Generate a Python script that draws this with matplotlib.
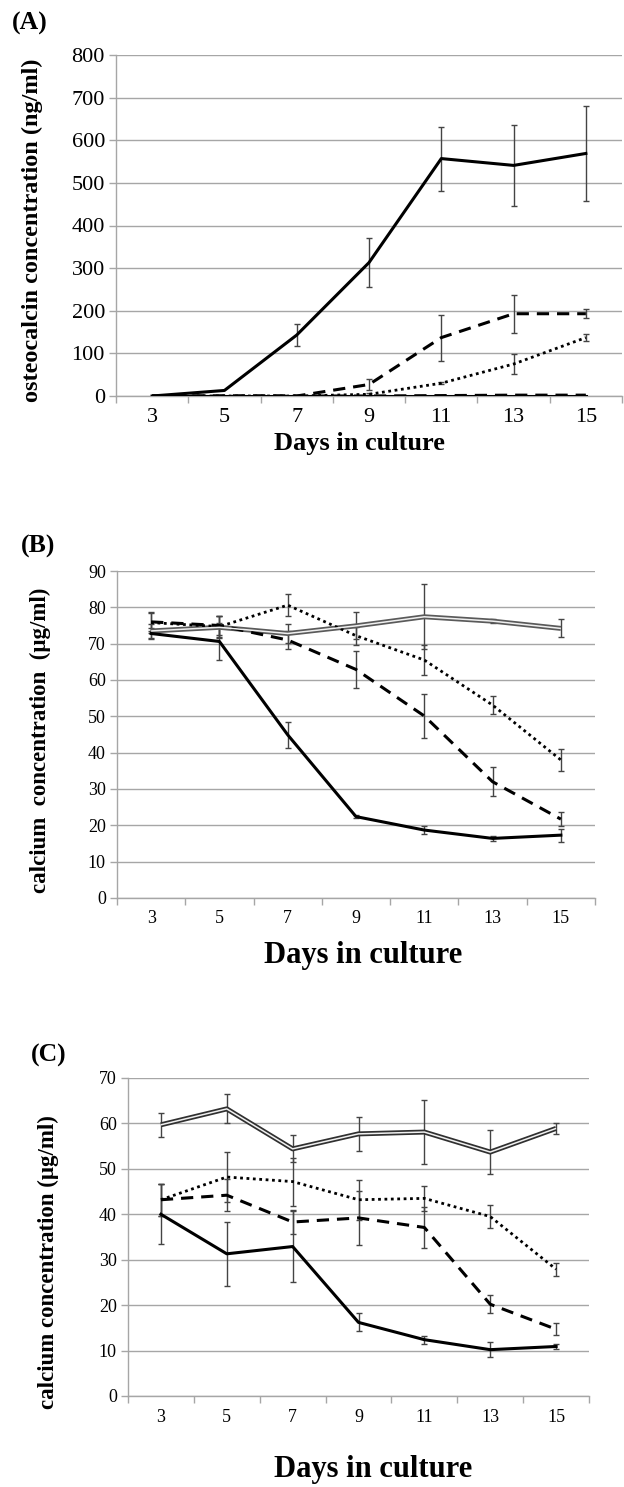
import numpy as np
import matplotlib
matplotlib.use("Agg")
import matplotlib.pyplot as plt

plt.rcParams["font.family"] = ["Liberation Serif", "DejaVu Serif"]

days = [3, 5, 7, 9, 11, 13, 15]

# (A) osteocalcin (ng/ml)
a_solid = [0, 13, 143, 313, 557, 541, 569]
a_solid_err = [0, 0, 25, 57, 75, 95, 112]
a_dashed = [0, 0, 0, 27, 137, 193, 193]
a_dashed_err = [0, 0, 0, 13, 54, 45, 11]
a_dotted = [0, 0, 0, 4, 30, 75, 137]
a_dotted_err = [0, 0, 0, 2, 3, 23, 9]
a_double = [0, 0, 0, 0, 0, 0, 0]
a_base = [0, 0, 0, 0, 1, 2, 2]

# (B) calcium (ug/ml)
b_solid = [72.8, 70.6, 44.9, 22.4, 18.7, 16.4, 17.3]
b_solid_err = [1.5, 5.0, 3.5, 0.5, 1.1, 0.7, 1.8]
b_dashed = [76.0, 75.0, 71.0, 62.9, 50.1, 32.0, 21.7]
b_dashed_err = [2.5, 2.5, 2.6, 5.0, 6.0, 4.0, 2.0]
b_dotted = [75.8, 74.7, 80.6, 72.2, 65.5, 53.1, 38.0]
b_dotted_err = [3.0, 3.0, 3.0, 2.5, 4.0, 2.5, 3.0]
b_double = [73.5, 74.5, 72.8, 74.9, 77.4, 76.2, 74.2]
b_double_err = [2.0, 3.0, 2.5, 3.7, 8.9, 0.5, 2.5]

# (C) calcium (ug/ml)
c_solid = [40.0, 31.3, 32.9, 16.2, 12.4, 10.2, 10.9]
c_solid_err = [6.6, 7.0, 7.8, 2.0, 0.9, 1.7, 0.6]
c_dashed = [43.2, 44.2, 38.3, 39.2, 37.1, 20.2, 14.7]
c_dashed_err = [3.5, 3.5, 2.7, 6.0, 4.6, 2.0, 1.3]
c_dotted = [43.2, 48.2, 47.2, 43.2, 43.5, 39.5, 27.9]
c_dotted_err = [3.5, 5.5, 5.3, 4.4, 2.7, 2.5, 1.4]
c_double = [59.7, 63.2, 54.4, 57.7, 58.1, 53.7, 58.9]
c_double_err = [2.7, 3.2, 3.0, 3.8, 7.0, 4.8, 1.3]

GRID = "#a6a6a6"
W, H = 624, 1487


def err_bars(ax, y, err):
    x = np.arange(len(y))
    y = np.asarray(y, float)
    err = np.asarray(err, float)
    keep = err > 0
    ax.errorbar(x[keep], y[keep], yerr=err[keep], fmt="none", ecolor="#444444",
                elinewidth=1.0, capsize=2.5, capthick=1.0, zorder=4)


def solid(ax, y, err=None):
    ax.plot(range(len(y)), y, color="black", lw=2.2, zorder=5)
    if err is not None:
        err_bars(ax, y, err)


def dashed(ax, y, err=None):
    ax.plot(range(len(y)), y, color="black", lw=2.2, dashes=(4, 2.6), zorder=5)
    if err is not None:
        err_bars(ax, y, err)


def dotted(ax, y, err=None):
    ax.plot(range(len(y)), y, color="black", lw=2.0, linestyle=(0, (1, 1.3)), zorder=5)
    if err is not None:
        err_bars(ax, y, err)


def double(ax, y, err=None, color="#404040"):
    ax.plot(range(len(y)), y, color=color, lw=3.6, zorder=5, solid_capstyle="butt")
    ax.plot(range(len(y)), y, color="#f0f0f0", lw=1.1, zorder=6, solid_capstyle="butt")
    if err is not None:
        err_bars(ax, y, err)


def style_axes(ax, ymax, ystep, tick_size):
    ax.set_xlim(-0.5, 6.5)
    ax.set_ylim(0, ymax)
    ax.set_yticks(np.arange(0, ymax + 1, ystep))
    ax.set_xticks(range(len(days)))
    ax.set_xticklabels(days)
    ax.set_xticks(np.arange(-0.5, 7, 1), minor=True)
    ax.tick_params(axis="x", which="major", length=0, labelsize=tick_size, pad=9)
    ax.tick_params(axis="x", which="minor", length=5, width=1, color=GRID)
    ax.tick_params(axis="y", length=5, width=1, color=GRID, labelsize=tick_size, pad=3)
    ax.grid(axis="y", color=GRID, lw=1.0, zorder=0)
    ax.set_axisbelow(True)
    for side in ["top", "right"]:
        ax.spines[side].set_visible(False)
    for side in ["left", "bottom"]:
        ax.spines[side].set_color(GRID)
        ax.spines[side].set_linewidth(1.0)


def axes_px(fig, left, right, top, bottom):
    return fig.add_axes([left / W, 1 - bottom / H, (right - left) / W, (bottom - top) / H])


def fig_text(fig, x, y, s, size, rotation=0):
    fig.text(x / W, 1 - y / H, s, fontsize=size, fontweight="bold",
             ha="center", va="center", rotation=rotation)


fig = plt.figure(figsize=(W / 100, H / 100), dpi=100)

# (A)
ax = axes_px(fig, 116, 622, 55, 396)
style_axes(ax, 800, 100, 16)
solid(ax, a_double)
dashed(ax, a_base)
solid(ax, a_solid, a_solid_err)
dashed(ax, a_dashed, a_dashed_err)
dotted(ax, a_dotted, a_dotted_err)
fig_text(fig, 30, 23, "(A)", 18.5)
fig_text(fig, 32, 230, "osteocalcin concentration (ng/ml)", 17.5, rotation=90)
fig_text(fig, 359, 444, "Days in culture", 19)

# (B)
ax = axes_px(fig, 117, 595, 571, 898)
style_axes(ax, 90, 10, 13)
double(ax, b_double, b_double_err, color="#5a5a5a")
dotted(ax, b_dotted, b_dotted_err)
dashed(ax, b_dashed, b_dashed_err)
solid(ax, b_solid, b_solid_err)
fig_text(fig, 38, 546, "(B)", 18.5)
fig_text(fig, 40, 740, "calcium  concentration  (μg/ml)", 16.5, rotation=90)
fig_text(fig, 363, 955, "Days in culture", 22)

# (C)
ax = axes_px(fig, 128, 589, 1078, 1396)
style_axes(ax, 70, 10, 13)
double(ax, c_double, c_double_err, color="#303030")
dotted(ax, c_dotted, c_dotted_err)
dashed(ax, c_dashed, c_dashed_err)
solid(ax, c_solid, c_solid_err)
fig_text(fig, 49, 1055, "(C)", 18.5)
fig_text(fig, 48, 1262, "calcium concentration (μg/ml)", 16.5, rotation=90)
fig_text(fig, 373, 1470, "Days in culture", 22)

fig.savefig("out.png", dpi=100)
